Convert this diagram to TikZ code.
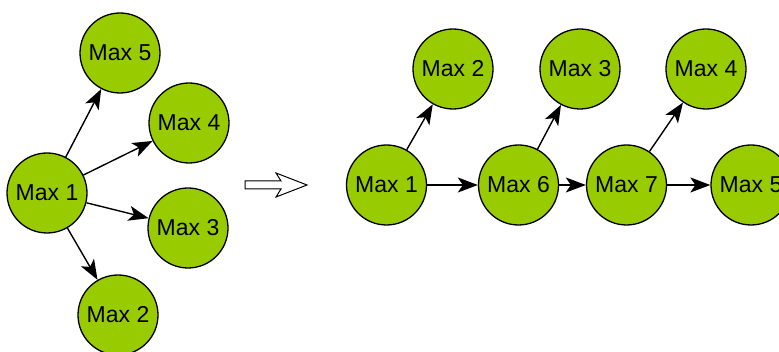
\documentclass[tikz,border=0pt]{standalone}
\usepackage{fontspec}
\setmainfont{Liberation Sans}
\usetikzlibrary{arrows.meta}
\definecolor{nodegreen}{HTML}{99CC00}
\begin{document}
\begin{tikzpicture}[x=1pt,y=-1pt,
  maxnode/.style={circle,draw=black,line width=1.3pt,fill=nodegreen,minimum size=80pt,inner sep=0pt,font=\fontsize{23}{26}\selectfont},
  link/.style={line width=1.4pt,-{Stealth[length=20pt,width=15pt,inset=5pt]}}]
\useasboundingbox (0,0) rectangle (779,352);
% left group
\node[maxnode] (l1) at (47,193) {Max 1};
\node[maxnode] (l5) at (120,53) {Max 5};
\node[maxnode] (l4) at (189,123) {Max 4};
\node[maxnode] (l3) at (188,228) {Max 3};
\node[maxnode] (l2) at (118,315) {Max 2};
\draw[link] (l1) -- (l5);
\draw[link] (l1) -- (l4);
\draw[link] (l1) -- (l3);
\draw[link] (l1) -- (l2);
% transform arrow (hollow)
\draw[line width=1pt,fill=white,line join=miter]
  (245,181) -- (281,181) -- (276,173) -- (307,185) -- (276,197) -- (281,189) -- (245,189) -- cycle;
% right group
\node[maxnode] (r1) at (386.5,185) {Max 1};
\node[maxnode] (r2) at (453,69) {Max 2};
\node[maxnode] (r3) at (580,69) {Max 3};
\node[maxnode] (r4) at (706,69) {Max 4};
\node[maxnode] (r6) at (518.5,185) {Max 6};
\node[maxnode] (r7) at (626.5,185) {Max 7};
\node[maxnode] (r5) at (751,185) {Max 5};
\draw[link] (r1) -- (r2);
\draw[link] (r6) -- (r3);
\draw[link] (r7) -- (r4);
\draw[link] (r1) -- (r6);
\draw[link] (r6) -- (r7);
\draw[link] (r7) -- (r5);
\end{tikzpicture}
\end{document}
